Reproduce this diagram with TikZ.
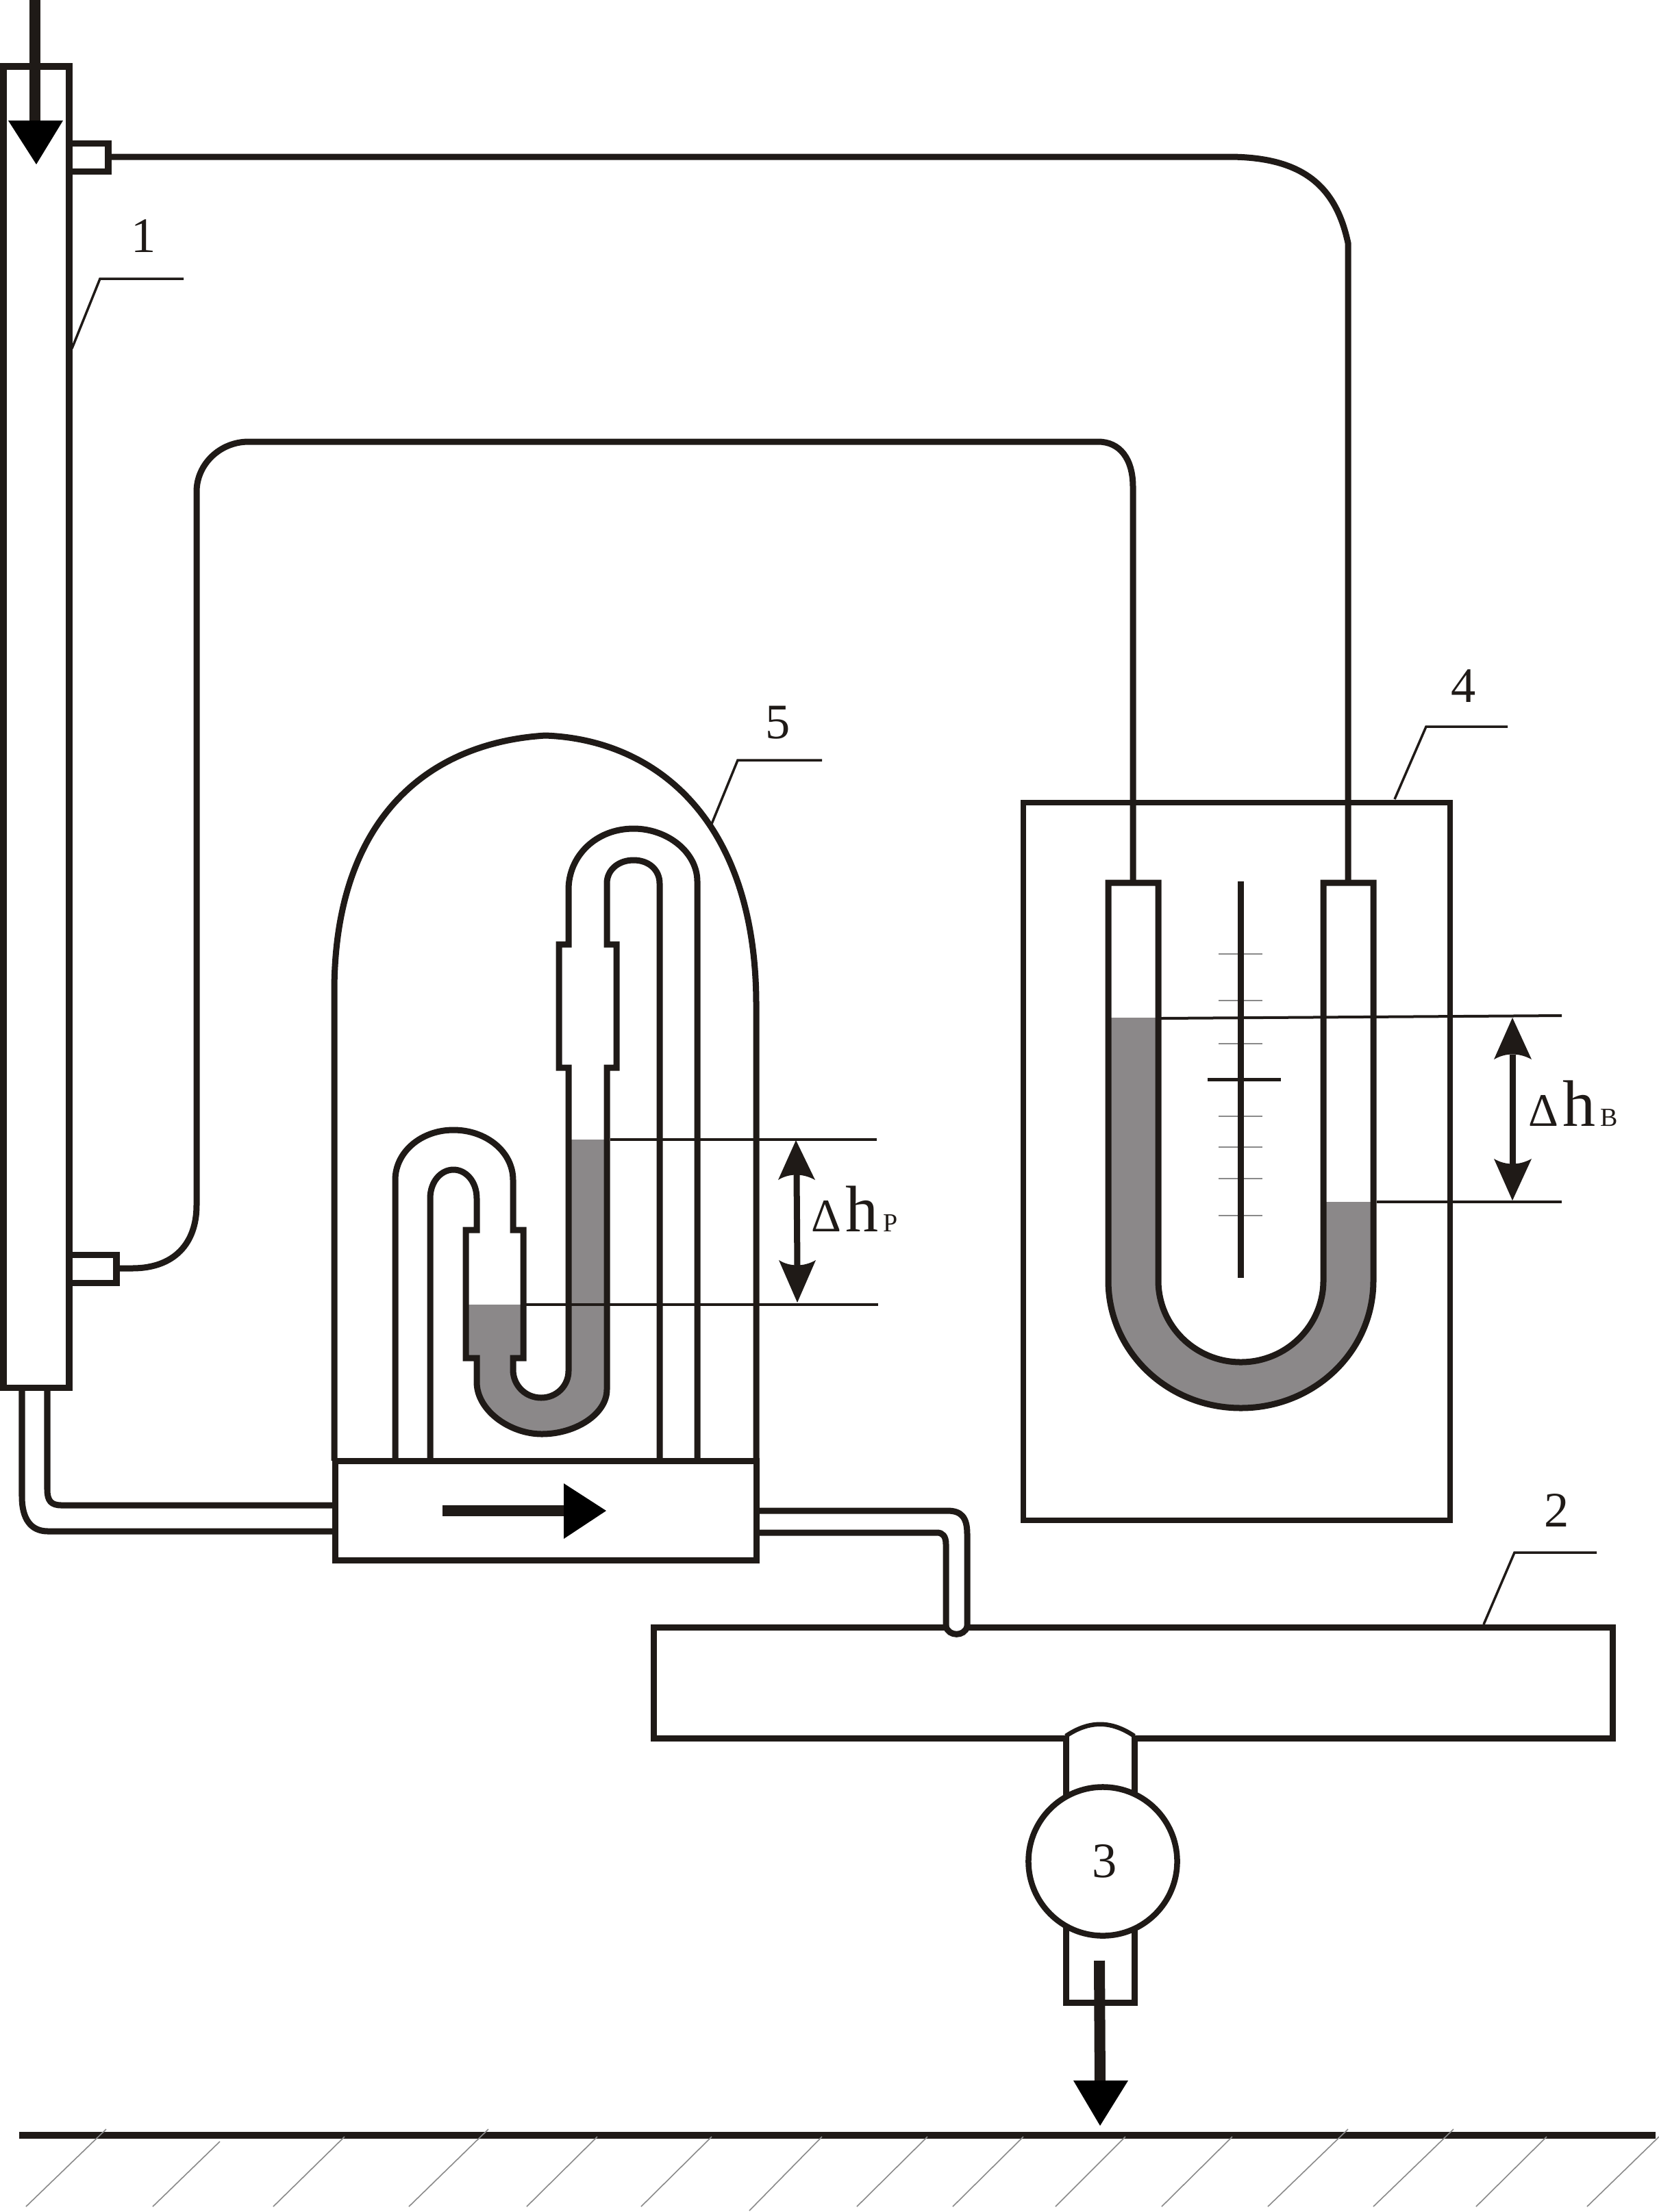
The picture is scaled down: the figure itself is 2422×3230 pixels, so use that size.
\documentclass[tikz,border=0pt]{standalone}
\usepackage{fontspec}
\setmainfont{Liberation Serif}
\definecolor{ink}{HTML}{1F1A17}
\definecolor{liquid}{HTML}{8B8889}
\definecolor{hatchgray}{HTML}{8A8A8A}
\begin{document}
\begin{tikzpicture}[x=0.01cm,y=-0.01cm,
  tube/.style={draw=ink,line width=0.09cm,miter limit=10},
  wall/.style={draw=ink,line width=0.09cm,miter limit=10},
  leaderline/.style={draw=ink,line width=0.035cm},
  levelline/.style={draw=ink,line width=0.04cm},
  tickline/.style={draw=hatchgray,line width=0.016cm},
  hatchline/.style={draw=hatchgray,line width=0.016cm},
  shaft/.style={draw=ink,line width=0.16cm},
  head/.style={fill=black,draw=none},
  numlabel/.style={inner sep=0pt,text=ink,font=\fontsize{20.6}{22}\selectfont},
  deltalabel/.style={inner sep=0pt,text=ink,anchor=base west}]
\useasboundingbox (0,0) rectangle (2422,3230);

% liquid
\fill[liquid] (684,1905) -- (760,1905) -- (760,1983) -- (749,1983) -- (749,2000)
  .. controls (749,2023) and (767,2041) .. (790,2041)
  .. controls (813,2041) and (830,2023) .. (830,2002)
  -- (830,1664) -- (886,1664) -- (886,2029)
  .. controls (886,2065) and (840,2094) .. (791,2094)
  .. controls (745,2094) and (696,2060) .. (696,2018)
  -- (696,1983) -- (680,1983) -- (680,1905) -- cycle;
\fill[liquid] (1618,1486) -- (1691,1486) -- (1691,1870)
  .. controls (1691,1936) and (1745,1989) .. (1811.5,1989)
  .. controls (1878,1989) and (1932,1936) .. (1932,1870)
  -- (1932,1755) -- (2005,1755) -- (2005,1870)
  .. controls (2005,1973) and (1919,2056) .. (1811.5,2056)
  .. controls (1704,2056) and (1618,1973) .. (1618,1870) -- cycle;

% column 1
\draw[wall] (5,97) rectangle (101,2026);
\draw[tube] (101,209) rectangle (158,250);
\draw[tube] (101,1832) rectangle (170,1873);
% sensing tubes
\draw[tube] (158,229) -- (1793,229) .. controls (1900,229) and (1950,270) .. (1968,355) -- (1968,1289);
\draw[tube] (170,1852) -- (193,1852) .. controls (255,1852) and (287,1815) .. (287,1760)
  -- (287,718) .. controls (287,678) and (321,645) .. (363,645)
  -- (1603,645) .. controls (1635,645) and (1654,670) .. (1654,711) -- (1654,1289);
% tubes from column to flow box
\draw[tube] (69,2026) -- (69,2175) .. controls (69,2192) and (75,2198) .. (90,2198) -- (489,2198);
\draw[tube] (32,2026) -- (32,2185) .. controls (32,2218) and (45,2236) .. (70,2236) -- (489,2236);

% flow box and dome
\draw[wall] (489,2133) rectangle (1104,2278);
\draw[tube] (488,2133) -- (488,1448) .. controls (488,1200) and (620,1085) .. (796,1074)
  .. controls (960,1080) and (1104,1200) .. (1104,1467) -- (1104,2133);

% micromanometer
\draw[tube] (1018,2133) -- (1018,1287) .. controls (1018,1245) and (975,1210) .. (925,1210)
  .. controls (870,1210) and (830,1250) .. (830,1299)
  -- (830,1379) -- (816,1379) -- (816,1559) -- (830,1559) -- (830,2002)
  .. controls (830,2023) and (813,2041) .. (790,2041)
  .. controls (767,2041) and (749,2023) .. (749,2000)
  -- (749,1983) -- (764,1983) -- (764,1796) -- (749,1796) -- (749,1723)
  .. controls (749,1682) and (710,1650) .. (662,1650)
  .. controls (615,1650) and (577,1682) .. (577,1723) -- (577,2133);
\draw[tube] (963,2133) -- (963,1290) .. controls (963,1270) and (947,1256) .. (925,1256)
  .. controls (903,1256) and (886,1270) .. (886,1290)
  -- (886,1379) -- (900,1379) -- (900,1559) -- (886,1559) -- (886,2029)
  .. controls (886,2065) and (840,2094) .. (791,2094)
  .. controls (745,2094) and (696,2060) .. (696,2018)
  -- (696,1983) -- (680,1983) -- (680,1796) -- (696,1796) -- (696,1750)
  .. controls (696,1725) and (680,1708) .. (662,1708)
  .. controls (644,1708) and (628,1725) .. (628,1750) -- (628,2133);

% flow arrow
\draw[shaft] (646,2206) -- (830,2206);
\fill[head] (823,2166) -- (885,2206) -- (823,2247) -- cycle;

% level lines, delta-h P
\draw[levelline] (891,1664) -- (1280,1664);
\draw[levelline] (768,1905) -- (1282,1905);
\draw[draw=ink,line width=0.09cm] (1163,1715) -- (1164,1850);
\fill[fill=ink] (1162,1665) -- (1190,1723) .. controls (1172,1713) and (1152,1713) .. (1136,1723) -- cycle;
\fill[fill=ink] (1164,1902) -- (1191,1840) .. controls (1174,1850) and (1153,1850) .. (1137,1840) -- cycle;
\node[deltalabel] (dhp) at (1184,1798) {{\fontsize{19.4}{22}\selectfont Δ}\hspace{1.6pt}{\fontsize{27.3}{30}\selectfont h}\hspace{2pt}{\fontsize{10.8}{12}\selectfont P}};

% U-tube enclosure and U-tube
\draw[wall,line width=0.08cm] (1494,1172) rectangle (2117,2220);
\draw[tube] (1618,1289) -- (1691,1289) -- (1691,1870)
  .. controls (1691,1936) and (1745,1989) .. (1811.5,1989)
  .. controls (1878,1989) and (1932,1936) .. (1932,1870)
  -- (1932,1289) -- (2005,1289) -- (2005,1870)
  .. controls (2005,1973) and (1919,2056) .. (1811.5,2056)
  .. controls (1704,2056) and (1618,1973) .. (1618,1870) -- cycle;
% scale
\foreach \ty in {1393,1461,1524,1630,1675,1721,1775}
  \draw[tickline] (1779,\ty) -- (1843,\ty);
\draw[tube] (1811,1287) -- (1811,1866);
\draw[draw=ink,line width=0.05cm] (1763,1576) -- (1870,1576);
% levels, delta-h B
\draw[levelline] (1695,1487) -- (2280,1483);
\draw[levelline] (2010,1755) -- (2280,1755);
\draw[draw=ink,line width=0.09cm] (2208,1540) -- (2208,1700);
\fill[fill=ink] (2208,1486) -- (2236,1547) .. controls (2218,1537) and (2198,1537) .. (2181,1547) -- cycle;
\fill[fill=ink] (2208,1753) -- (2236,1692) .. controls (2218,1702) and (2198,1702) .. (2181,1692) -- cycle;
\node[deltalabel] (dhb) at (2231,1644) {{\fontsize{19.4}{22}\selectfont Δ}\hspace{1.6pt}{\fontsize{27.3}{30}\selectfont h}\hspace{2pt}{\fontsize{10.8}{12}\selectfont B}};

% right tube to chamber
\draw[tube] (1104,2206) -- (1383,2206) .. controls (1403,2206) and (1412,2215) .. (1412,2240) -- (1412,2376);
\draw[tube] (1104,2238) -- (1368,2238) .. controls (1376,2238) and (1381,2243) .. (1381,2255) -- (1381,2376);
\draw[tube] (1381,2375) .. controls (1385,2390) and (1408,2390) .. (1412,2375);

% chamber 2
\draw[tube] (1381,2376) -- (954,2376) -- (954,2538) -- (1556,2538);
\draw[tube] (1656,2538) -- (2354,2538) -- (2354,2376) -- (1412,2376);

% pump
\draw[tube] (1556,2535) -- (1556,2640);
\draw[tube] (1656,2535) -- (1656,2640);
\draw[tube,line width=0.065cm] (1556,2535) .. controls (1590,2512) and (1622,2512) .. (1656,2535);
\draw[tube] (1556,2800) -- (1556,2924) -- (1656,2924) -- (1656,2800);
\node[circle,draw=ink,fill=white,line width=0.085cm,minimum size=2.17cm,inner sep=0pt,
  font=\fontsize{20.6}{22}\selectfont,text=ink] (pump) at (1610,2718) {\hspace*{1.6pt}3};

% in and out arrows
\draw[shaft] (51,0) -- (51,190);
\fill[head] (12,176) -- (92,176) -- (53,240) -- cycle;
\draw[shaft] (1605,2863) -- (1606,3045);
\fill[head] (1567,3038) -- (1647,3038) -- (1606,3104) -- cycle;

% leaders and numbers
\draw[leaderline] (105,509) -- (146,407) -- (268,407);
\node[numlabel] (n1) at (210,345) {1};
\draw[leaderline] (2166,2372) -- (2211,2267) -- (2331,2267);
\node[numlabel] (n2) at (2273,2205) {2};
\draw[leaderline] (2036,1167) -- (2082,1061) -- (2201,1061);
\node[numlabel] (n4) at (2137,1002) {4};
\draw[leaderline] (1039,1203) -- (1077,1110) -- (1200,1110);
\node[numlabel] (n5) at (1136,1055) {5};

% ground
\draw[draw=ink,line width=0.1cm] (28,3118) -- (2417,3118);
\foreach \xa/\ya/\xb/\yb in {155/3109/38/3222,321/3127/223/3222,503/3120/399/3222,713/3109/597/3222,872/3120/769/3222,1039/3120/936/3222,1200/3120/1094/3228,1354/3120/1251/3222,1494/3120/1391/3222,1643/3120/1541/3222,1799/3120/1696/3222,1968/3109/1851/3222,2122/3109/2005/3222,2258/3120/2155/3222,2422/3120/2317/3222}
  \draw[hatchline] (\xa,\ya) -- (\xb,\yb);
\end{tikzpicture}
\end{document}
